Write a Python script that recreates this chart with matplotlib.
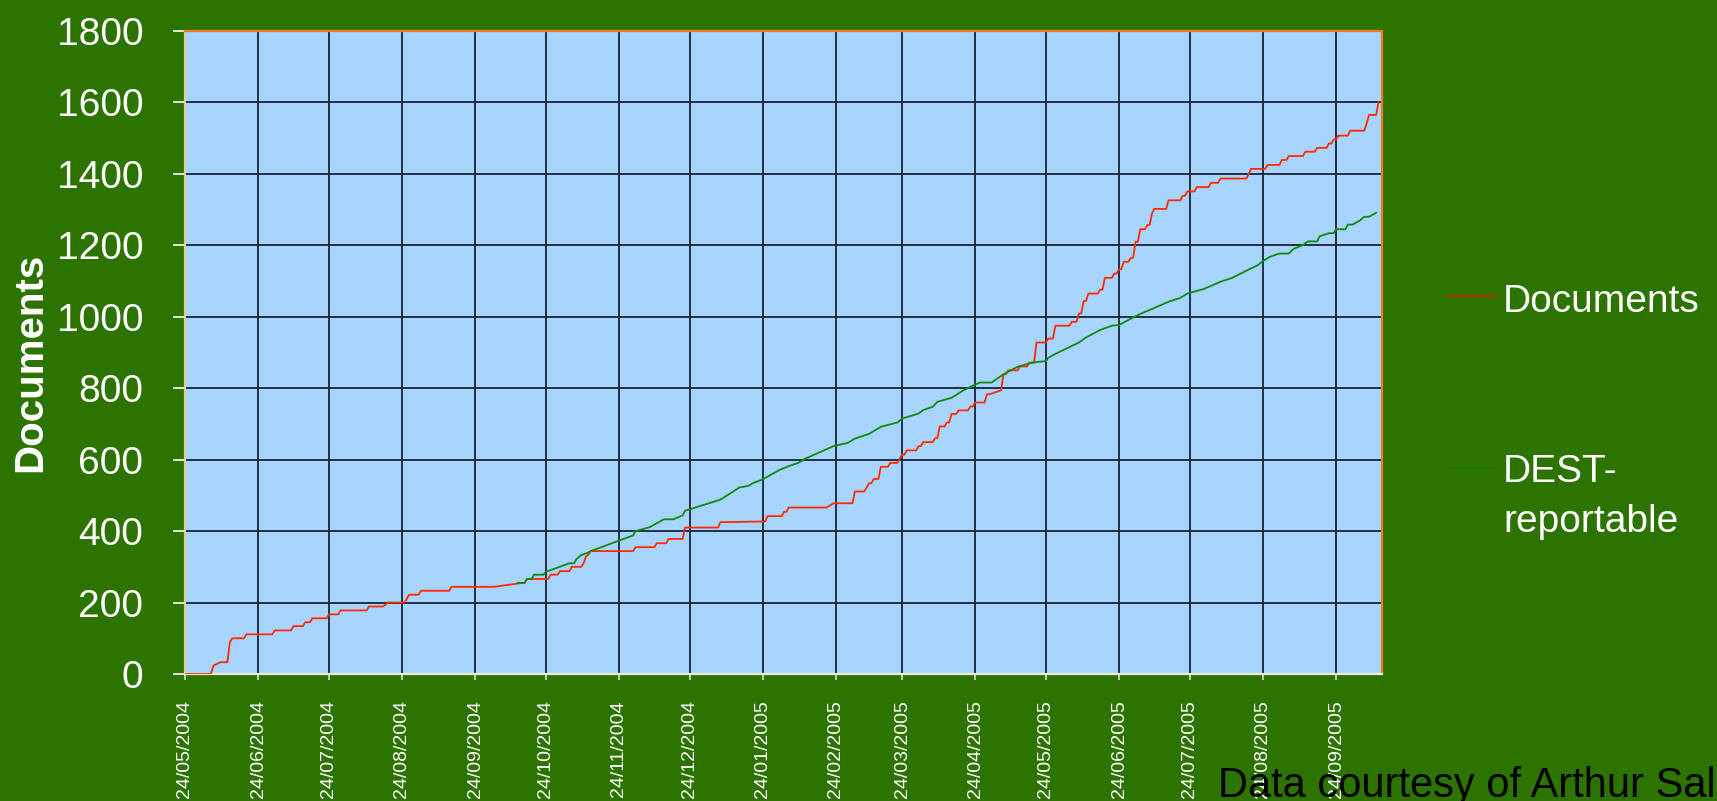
import numpy as np
import matplotlib
matplotlib.use("Agg")
import matplotlib.pyplot as plt
import matplotlib.dates as mdates
from matplotlib.lines import Line2D

plt.rcParams['font.family'] = ['Liberation Sans', 'DejaVu Sans']

# days after 24/05/2004, cumulative counts
start = np.datetime64('2004-05-24')

doc_days = [0, 11, 12, 15, 18, 19, 20, 25, 26, 37, 38, 45, 46, 50, 51, 53, 54, 60, 61, 65, 66,
            77, 78, 84, 86, 93, 94, 95, 99, 100, 112, 113, 131, 143, 144, 145, 154, 155, 158,
            159, 163, 164, 168, 169, 170, 171, 172, 190, 191, 199, 200, 204, 205, 211, 212,
            226, 227, 246, 247, 253, 254, 255, 256, 272, 275, 283, 284, 288, 289, 290, 291,
            292, 294, 295, 298, 299, 302, 303, 304, 305, 306, 310, 311, 312, 313, 317, 318,
            319, 320, 322, 323, 324, 325, 327, 328, 332, 333, 334, 335, 339, 340, 341, 346,
            347, 348, 349, 353, 354, 357, 358, 360, 361, 365, 366, 368, 369, 375, 376, 378,
            379, 380, 381, 382, 383, 387, 388, 389, 390, 393, 394, 395, 396, 397, 398, 400,
            401, 402, 403, 404, 405, 407, 408, 409, 410, 411, 416, 417, 422, 423, 424, 425,
            428, 429, 434, 435, 438, 439, 450, 451, 452, 458, 459, 464, 465, 467, 468, 474,
            475, 479, 480, 484, 485, 486, 487, 488, 489, 493, 494, 500, 501, 502, 505, 506]
doc_vals = [0, 0, 23, 33, 33, 88, 100, 100, 111, 111, 122, 122, 134, 134, 145, 145, 156, 156, 167, 167, 178,
            178, 189, 189, 200, 200, 210, 222, 222, 233, 233, 244, 244, 255, 255, 266, 266, 278, 278,
            288, 288, 300, 300, 310, 329, 334, 344, 344, 355, 355, 366, 366, 378, 378, 410,
            410, 425, 427, 442, 442, 454, 454, 466, 466, 478, 478, 511, 511, 522, 534, 534,
            546, 546, 580, 580, 591, 591, 602, 614, 614, 626, 626, 638, 638, 649, 649, 660,
            660, 693, 693, 704, 704, 728, 728, 738, 738, 749, 749, 760, 760, 783, 783, 794,
            839, 839, 850, 850, 861, 861, 872, 872, 928, 928, 939, 939, 975, 975, 986, 986,
            1009, 1009, 1044, 1044, 1065, 1065, 1076, 1076, 1109, 1109, 1121, 1121, 1133, 1133, 1154, 1154,
            1165, 1165, 1210, 1210, 1245, 1245, 1257, 1257, 1290, 1302, 1302, 1326, 1326, 1339, 1339, 1351,
            1351, 1363, 1363, 1375, 1375, 1387, 1387, 1400, 1414, 1414, 1425, 1425, 1439, 1439, 1450, 1450,
            1462, 1462, 1473, 1473, 1485, 1485, 1496, 1496, 1507, 1507, 1521, 1521, 1541, 1565, 1565, 1600]

dest_days = [141, 144, 145, 147, 148, 152, 153, 163, 165, 166, 168, 171, 172, 190, 191, 197, 200,
             203, 207, 211, 212, 227, 235, 239, 241, 245, 249, 252, 256, 260, 263, 275, 281, 284,
             290, 295, 302, 304, 311, 313, 317, 319, 325, 330, 334, 337, 342, 347, 353, 359, 362,
             365, 366, 369, 379, 382, 388, 393, 396, 402, 405, 410, 417, 422, 425, 432, 439, 444,
             450, 455, 457, 460, 464, 468, 470, 474, 476, 480, 481, 485, 487, 488, 492, 493, 495,
             498, 500, 502, 505]
dest_vals = [255, 255, 266, 266, 278, 278, 286, 310, 310, 322, 333, 340, 344, 388, 400, 411, 422,
             433, 433, 444, 457, 488, 522, 527, 535, 545, 560, 571, 582, 591, 603, 638, 647, 659,
             672, 692, 704, 715, 729, 739, 748, 762, 773, 794, 807, 816, 816, 839, 860, 871, 874,
             876, 885, 896, 928, 942, 963, 975, 977, 998, 1008, 1022, 1042, 1053, 1065, 1078, 1098, 1109,
             1129, 1145, 1156, 1168, 1177, 1177, 1190, 1201, 1211, 1211, 1225, 1234, 1234, 1245, 1245, 1258, 1258,
             1269, 1280, 1280, 1291]

doc_dates = start + np.array(doc_days, dtype='timedelta64[D]')
dest_dates = start + np.array(dest_days, dtype='timedelta64[D]')
tick_dates = np.arange(np.datetime64('2004-05'), np.datetime64('2005-10')).astype('datetime64[D]') + 23

bg = '#2d7300'
fig = plt.figure(figsize=(17.17, 8.01), dpi=100, facecolor=bg)
ax = fig.add_axes([185/1717, 1 - 674/801, 1197/1717, 643/801])
ax.set_facecolor('#a8d5ff')

ax.plot(doc_dates, doc_vals, color='#ff2a00', lw=1.3, zorder=3)
ax.plot(dest_dates, dest_vals, color='#0f8a0f', lw=1.3, zorder=4)

ax.set_ylim(0, 1800)
ax.set_yticks(np.arange(0, 1801, 200))
ax.set_xlim(start, np.datetime64('2005-10-13T12:00'))
ax.set_xticks(tick_dates)
ax.xaxis.set_major_formatter(mdates.DateFormatter('%d/%m/%Y'))

ax.grid(True, color='#17223a', lw=1.3)
ax.set_axisbelow(True)

ax.spines['left'].set_color('#dccf94')
ax.spines['bottom'].set_color('#f3ecd4')
ax.spines['top'].set_color('#f07a1c')
ax.spines['right'].set_color('#f07a1c')
for s in ax.spines.values():
    s.set_linewidth(1.6)

ax.tick_params(axis='y', direction='out', length=9, width=1.4, color='#e6e6de',
               labelcolor='white', labelsize=28, pad=21)
ax.tick_params(axis='x', direction='out', length=4, width=1.2, color='#dddddd',
               labelcolor='white', labelsize=14, pad=15, labelrotation=90)

ax.set_ylabel('Documents', fontsize=29, fontweight='bold', color='white', va='center')
ax.yaxis.set_label_coords(-0.1295, 0.485)

# legend
fig.add_artist(Line2D([1447/1717, 1495/1717], [1 - 296/801] * 2, color='#d82000', lw=1.2,
                      transform=fig.transFigure))
fig.add_artist(Line2D([1447/1717, 1495/1717], [1 - 468/801] * 2, color='#167a00', lw=1.2,
                      transform=fig.transFigure))
fig.text(1503/1717, 1 - 312/801, 'Documents', color='white', fontsize=28, va='baseline')
fig.text(1503/1717, 1 - 482/801, 'DEST-', color='white', fontsize=28, va='baseline')
fig.text(1503/1717, 1 - 532/801, 'reportable', color='white', fontsize=28, va='baseline')

fig.text(1218/1717, 1 - 797/801, 'Data courtesy of Arthur Sale', color='black',
         fontsize=30, va='baseline')

fig.savefig('out.png', dpi=100, facecolor=bg)
